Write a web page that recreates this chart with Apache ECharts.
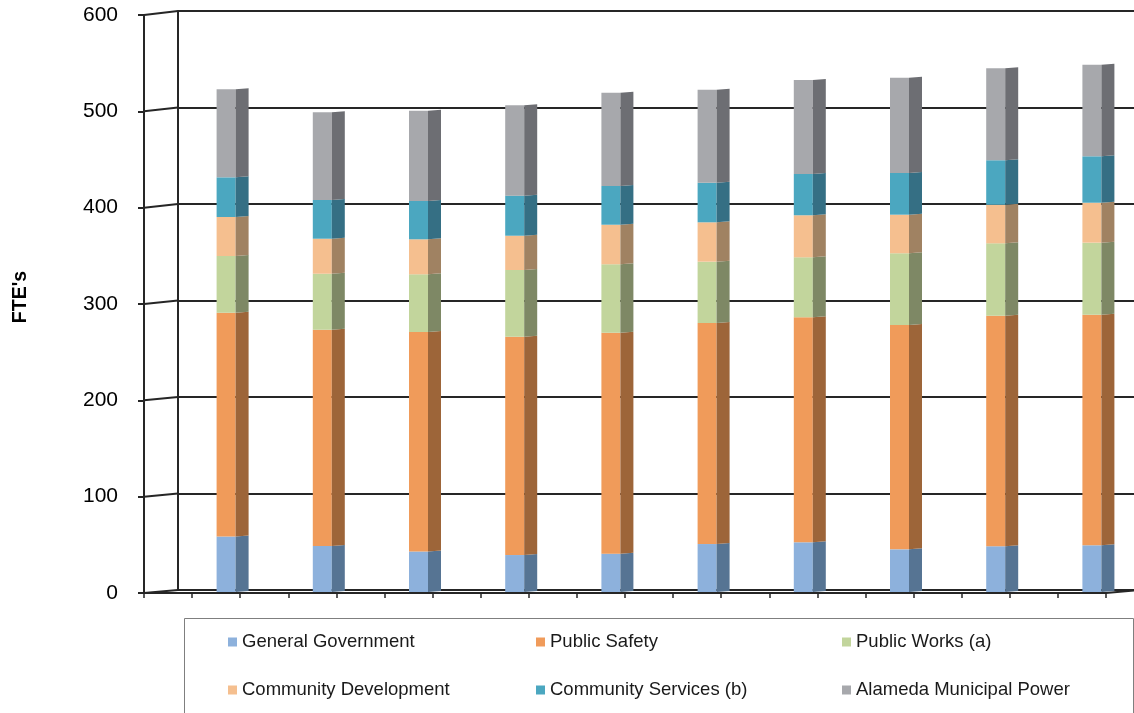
<!DOCTYPE html>
<html>
<head>
<meta charset="utf-8">
<script src="https://cdn.jsdelivr.net/npm/echarts@6/dist/echarts.min.js"></script>
<style>
html,body{margin:0;padding:0;background:#fff;}
#chart{width:1134px;height:713px;}
</style>
</head>
<body>
<div id="chart"></div>
<script>
// ---- data (FTE's by department, 10 periods; period labels not shown on the chart) ----
const categories = ['1','2','3','4','5','6','7','8','9','10'];
const seriesNames = ['General Government','Public Safety','Public Works (a)','Community Development','Community Services (b)','Alameda Municipal Power'];
const generalGovernment    = [57.5, 47.7, 42.0, 38.3, 39.7, 49.7, 51.5, 44.2, 47.4, 48.4];
const publicSafety         = [231.9, 224.1, 227.4, 226.3, 229.0, 229.1, 233.2, 232.5, 238.9, 239.0];
const publicWorks          = [58.8, 58.0, 59.8, 69.1, 70.9, 63.5, 62.1, 74.3, 75.0, 74.6];
const communityDevelopment = [40.4, 36.3, 36.3, 35.5, 41.0, 40.8, 43.6, 40.0, 40.0, 41.4];
const communityServices    = [41.1, 40.1, 39.7, 41.5, 40.1, 41.0, 42.8, 43.2, 46.1, 48.1];
const alamedaPower         = [91.2, 90.9, 93.6, 93.7, 96.7, 96.4, 97.4, 98.8, 95.3, 94.9];
const yTicks = [0, 100, 200, 300, 400, 500, 600];
const yTitle = "FTE's";

// ---- styling ----
const frontColors = ['#8DB1DC', '#F09B5A', '#C2D59C', '#F5BF8F', '#4BA7C0', '#A7A8AC'];
const sideColors  = ['#567493', '#9D6539', '#7E8865', '#A08262', '#356F84', '#6D6E73'];
const FONT = '"Liberation Sans", Arial, sans-serif';
const LINE = '#262626';

const allSeries = [generalGovernment, publicSafety, publicWorks, communityDevelopment, communityServices, alamedaPower];

// stacked data: [categoryCenter, base, top]
const cum = categories.map(() => 0);
const stackedData = allSeries.map(arr => arr.map((v, i) => {
  const base = cum[i];
  cum[i] += v;
  return [i + 0.5, base, cum[i]];
}));

function barRenderer(front, side) {
  return function (params, api) {
    const x = api.value(0), lo = api.value(1), hi = api.value(2);
    const p0 = api.coord([x, lo]);
    const p1 = api.coord([x, hi]);
    const fl = p0[0] - 9.5, fr = p0[0] + 9.5, sr = fr + 13;
    return {
      type: 'group',
      children: [
        { type: 'rect', shape: { x: fl, y: p1[1], width: 19, height: p0[1] - p1[1] }, style: { fill: front } },
        { type: 'polygon', shape: { points: [[fr, p1[1]], [sr, p1[1] - 1], [sr, p0[1] - 1], [fr, p0[1]]] }, style: { fill: side } }
      ]
    };
  };
}

const barSeries = seriesNames.map((name, k) => ({
  name: name,
  type: 'custom',
  xAxisIndex: 1, yAxisIndex: 1,
  data: stackedData[k],
  renderItem: barRenderer(frontColors[k], sideColors[k]),
  itemStyle: { color: frontColors[k] },
  encode: { x: 0, y: [1, 2] },
  silent: true,
  z: 3
}));

// perspective connectors from front axis ticks to back wall
const connectorData = yTicks.map(v => [0, v]).concat([[20, 0]]);
const connectorSeries = {
  type: 'custom',
  xAxisIndex: 2, yAxisIndex: 2,
  data: connectorData,
  silent: true,
  z: 1,
  renderItem: function (params, api) {
    const v = api.value(1);
    const p = api.coord([api.value(0), v]);
    return {
      type: 'line',
      shape: { x1: p[0], y1: p[1], x2: p[0] + 34, y2: p[1] - 3 - v / 600 },
      style: { stroke: LINE, lineWidth: 2 }
    };
  }
};

const legendPos = [
  [228, 631], [536, 631], [842, 631],
  [228, 679], [536, 679], [842, 679]
];
const legends = seriesNames.map((name, k) => ({
  data: [name],
  left: legendPos[k][0], top: legendPos[k][1],
  padding: 0,
  itemWidth: 9, itemHeight: 9,
  icon: 'rect',
  selectedMode: false,
  textStyle: { fontFamily: FONT, fontSize: 18.5, color: '#1a1a1a', lineHeight: 22 }
}));

const chart = echarts.init(document.getElementById('chart'), null, { renderer: 'canvas' });
chart.setOption({
  animation: false,
  backgroundColor: '#ffffff',
  grid: [
    { left: 178, top: 11, width: 962, height: 579, outerBoundsMode: 'none', containLabel: false },   // back wall
    { left: 178, top: 13, width: 962, height: 579, outerBoundsMode: 'none', containLabel: false },   // bars
    { left: 144, top: 15, width: 962, height: 578, outerBoundsMode: 'none', containLabel: false }    // front axes
  ],
  xAxis: [
    { gridIndex: 0, type: 'value', min: 0, max: 10, show: false },
    { gridIndex: 1, type: 'value', min: 0, max: 10, show: false },
    { gridIndex: 2, type: 'value', min: 0, max: 20, interval: 1,
      axisLine: { show: true, lineStyle: { color: LINE, width: 2 } },
      axisTick: { show: true, length: 5, lineStyle: { color: LINE, width: 1.5 } },
      axisLabel: { show: false }, splitLine: { show: false } }
  ],
  yAxis: [
    { gridIndex: 0, type: 'value', min: 0, max: 600, interval: 100,
      axisLine: { show: true, lineStyle: { color: LINE, width: 2 } },
      axisTick: { show: false }, axisLabel: { show: false },
      splitLine: { show: true, lineStyle: { color: LINE, width: 2 } } },
    { gridIndex: 1, type: 'value', min: 0, max: 600, show: false, splitLine: { show: false } },
    { gridIndex: 2, type: 'value', min: 0, max: 600, interval: 100,
      axisLine: { show: true, lineStyle: { color: LINE, width: 2 } },
      axisTick: { show: true, length: 6, lineStyle: { color: LINE, width: 2 } },
      axisLabel: { show: true, margin: 26, fontFamily: FONT, fontSize: 21, color: '#000' },
      splitLine: { show: false } }
  ],
  legend: legends,
  graphic: [
    { type: 'rect', z: -1, shape: { x: 184.5, y: 618.5, width: 949, height: 130 },
      style: { fill: 'none', stroke: '#7f7f7f', lineWidth: 1 } },
    { type: 'text', x: 21, y: 297, rotation: Math.PI / 2,
      style: { text: yTitle, fontFamily: FONT, fontSize: 19.5, fontWeight: 'bold', fill: '#000',
               align: 'center', verticalAlign: 'middle' } }
  ],
  series: [connectorSeries].concat(barSeries)
});
</script>
</body>
</html>
